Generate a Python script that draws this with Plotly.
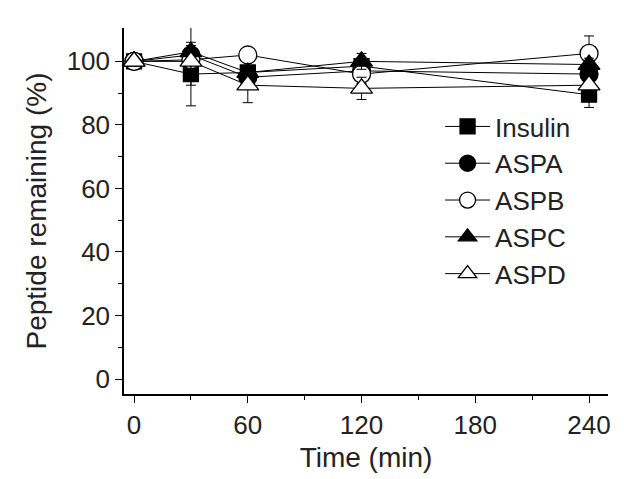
import plotly.graph_objects as go

# time points (min)
time = [0, 30, 60, 120, 240]

# peptide remaining (%) and error
insulin = [100, 96, 96.5, 98.5, 89.5]
insulin_err = [0.5, 10, 2, 2, 4]
aspa = [100, 102, 95, 97, 96]
aspa_err = [0.5, 3, 2, 2, 2]
aspb = [100, 100.5, 102, 96, 102.5]
aspb_err = [0.5, 2, 1.5, 3, 5.5]
aspc = [100, 103, 96.5, 100, 99]
aspc_err = [0.5, 10.5, 2, 2.5, 2]
aspd = [100, 100, 92.5, 91.5, 92.5]
aspd_err = [0.5, 4, 5.5, 3.5, 3]

names = ["Insulin", "ASPA", "ASPB", "ASPC", "ASPD"]
values = [insulin, aspa, aspb, aspc, aspd]
errors = [insulin_err, aspa_err, aspb_err, aspc_err, aspd_err]
symbols = ["square", "circle", "circle-open", "triangle-up", "triangle-up-open"]
sizes = [15, 18, 18, 19, 19]

fig = go.Figure()
for name, y, e, sym, sz in zip(names, values, errors, symbols, sizes):
    open_sym = sym.endswith("open")
    fig.add_trace(go.Scatter(
        x=time, y=y, name=name, mode="lines+markers",
        line=dict(color="black", width=1),
        marker=dict(symbol=sym.replace("-open", ""), size=sz,
                    color="white" if open_sym else "black",
                    line=dict(color="black", width=1.3)),
        error_y=dict(type="data", array=e, color="black", thickness=1, width=5),
        cliponaxis=False,
    ))

axis_font = dict(family="Liberation Sans, Arial", size=26, color="#222")
fig.update_layout(
    width=624, height=479,
    margin=dict(l=116, r=24, t=20, b=93),
    plot_bgcolor="white", paper_bgcolor="white",
    font=dict(family="Liberation Sans, Arial", color="#222"),
    legend=dict(x=0.653, y=0.795, xanchor="left", yanchor="top",
                font=dict(size=26), bgcolor="rgba(0,0,0,0)",
                itemwidth=45, tracegroupgap=0),
    xaxis=dict(range=[-5.3, 250], tickvals=[0, 60, 120, 180, 240],
               showline=True, linecolor="black", linewidth=1.5,
               ticks="outside", ticklen=7, tickcolor="black", tickwidth=1.3,
               minor=dict(tickvals=[30, 90, 150, 210], ticks="outside", ticklen=4,
                          tickcolor="black", tickwidth=1.3),
               showgrid=False, zeroline=False, tickfont=axis_font,
               title=dict(text="Time (min)", font=dict(size=28), standoff=8)),
    yaxis=dict(range=[-4.7, 110.5], tickvals=[0, 20, 40, 60, 80, 100],
               showline=True, linecolor="black", linewidth=1.5,
               ticks="outside", ticklen=7, tickcolor="black", tickwidth=1.3,
               minor=dict(tickvals=[10, 30, 50, 70, 90], ticks="outside", ticklen=4,
                          tickcolor="black", tickwidth=1.3),
               showgrid=False, zeroline=False, tickfont=axis_font,
               title=dict(text="Peptide remaining (%)", font=dict(size=28), standoff=12)),
)
fig.write_html("out.html")
